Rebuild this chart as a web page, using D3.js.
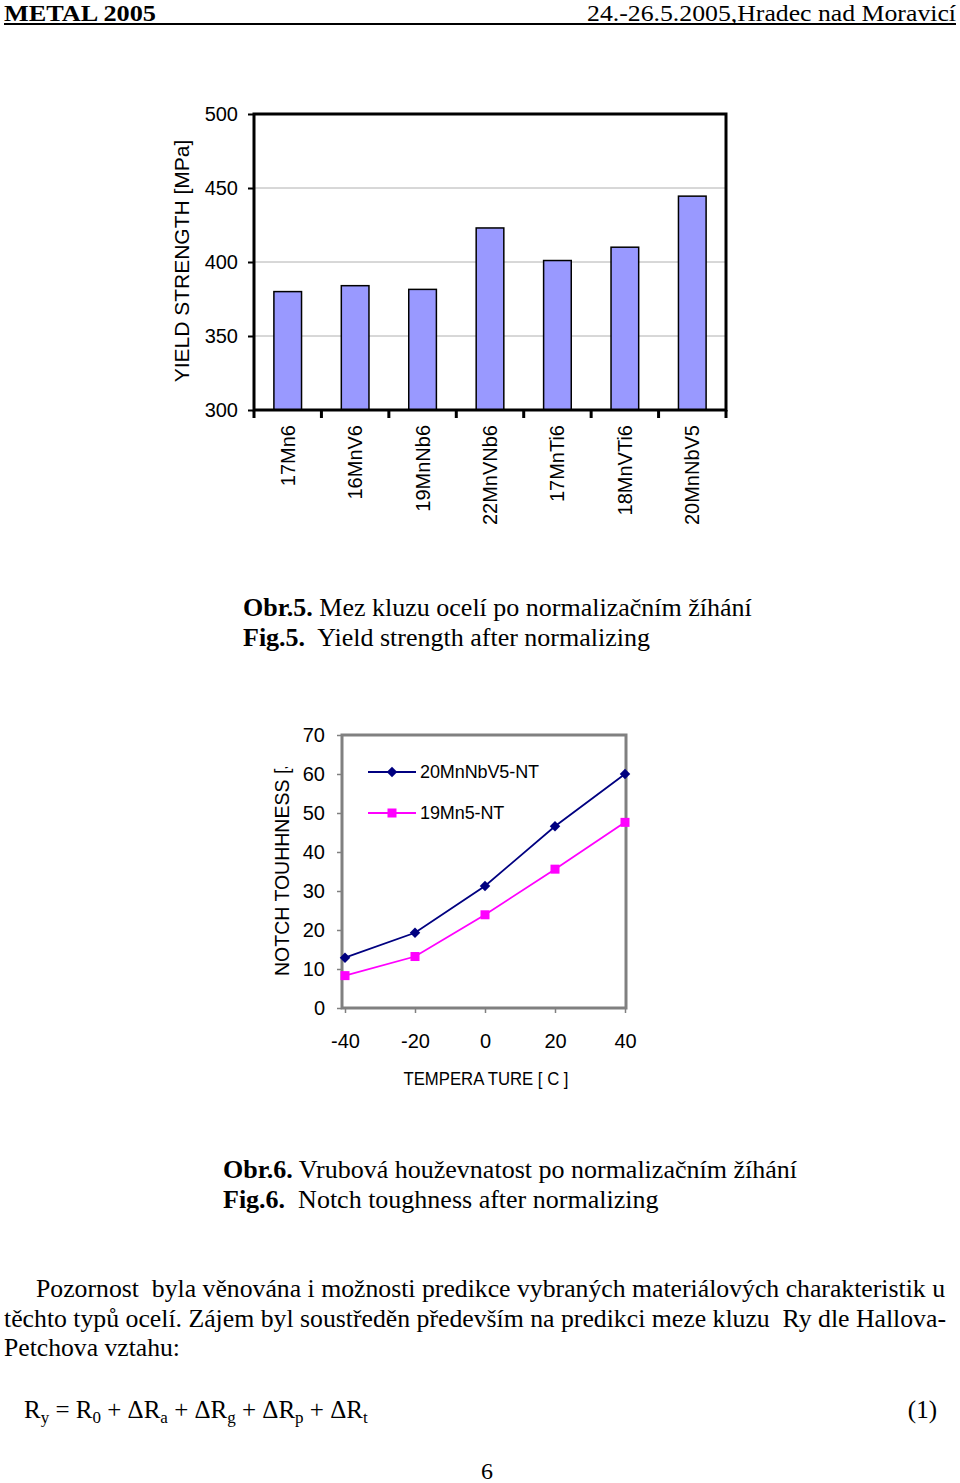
<!DOCTYPE html>
<html><head><meta charset="utf-8">
<script src="https://cdn.jsdelivr.net/npm/d3@7"></script>
<style>
html,body{margin:0;padding:0;background:#fff;}
svg{display:block;}
</style></head>
<body>
<script>
// ---- data ----
const steels = ["17Mn6","16MnV6","19MnNb6","22MnVNb6","17MnTi6","18MnVTi6","20MnNbV5"];
const yieldStrength = [380, 384, 381.5, 423, 401, 410, 444.5];
const yieldTicks = [300, 350, 400, 450, 500];

const temperatures = [-40, -20, 0, 20, 40];
const toughness20MnNbV5 = [12.9, 19.3, 31.3, 46.6, 60];
const toughness19Mn5 = [8.3, 13.2, 23.9, 35.6, 47.6];
const seriesNames = ["20MnNbV5-NT", "19Mn5-NT"];
const toughTicks = [0, 10, 20, 30, 40, 50, 60, 70];
const tempTicks = [-40, -20, 0, 20, 40];

const W = 960, H = 1483;
const svg = d3.select("body").append("svg").attr("width", W).attr("height", H);
const serif = "'Liberation Serif','Times New Roman',serif";
const sans = "'Liberation Sans',Arial,sans-serif";

// ---- header ----
svg.append("text").attr("x", 4).attr("y", 20.5).attr("font-family", serif).attr("font-weight", "bold")
  .attr("font-size", 24).attr("textLength", 152).attr("lengthAdjust", "spacingAndGlyphs").text("METAL 2005");
svg.append("text").attr("x", 587).attr("y", 20.5).attr("font-family", serif)
  .attr("font-size", 24).attr("textLength", 369).attr("lengthAdjust", "spacingAndGlyphs").text("24.-26.5.2005,Hradec nad Moravicí");
svg.append("line").attr("x1", 4).attr("x2", 956).attr("y1", 24).attr("y2", 24).attr("stroke", "#000").attr("stroke-width", 2);

// ---- chart 1: yield strength ----
const c1 = {left: 254, right: 726, top: 114, bottom: 410};
const x1 = d3.scaleBand().domain(steels).range([c1.left, c1.right]).paddingInner(0.59).paddingOuter(0.295);
const y1 = d3.scaleLinear().domain([300, 500]).range([c1.bottom, c1.top]);
const g1 = svg.append("g");

g1.selectAll("line.grid").data(yieldTicks.slice(1, -1)).join("line")
  .attr("x1", c1.left).attr("x2", c1.right).attr("y1", d => y1(d)).attr("y2", d => y1(d))
  .attr("stroke", "#b0b0b0").attr("stroke-width", 1);

g1.selectAll("rect.bar").data(yieldStrength).join("rect")
  .attr("x", (d, i) => x1(steels[i])).attr("width", x1.bandwidth())
  .attr("y", d => y1(d)).attr("height", d => y1(300) - y1(d))
  .attr("fill", "#9999ff").attr("stroke", "#000").attr("stroke-width", 1.5);

g1.append("rect").attr("x", c1.left).attr("y", c1.top).attr("width", c1.right - c1.left)
  .attr("height", c1.bottom - c1.top).attr("fill", "none").attr("stroke", "#000").attr("stroke-width", 3);

const ay1 = g1.append("g").attr("transform", `translate(${c1.left},0)`)
  .call(d3.axisLeft(y1).tickValues(yieldTicks).tickSize(6).tickPadding(10));
ay1.select(".domain").remove();
ay1.selectAll("line").attr("stroke", "#000").attr("stroke-width", 2);
ay1.selectAll("text").attr("font-family", sans).attr("font-size", 20).attr("fill", "#000");

const step1 = (c1.right - c1.left) / steels.length;
g1.selectAll("line.xt").data(d3.range(steels.length + 1)).join("line")
  .attr("x1", i => c1.left + i * step1).attr("x2", i => c1.left + i * step1)
  .attr("y1", c1.bottom).attr("y2", c1.bottom + 8).attr("stroke", "#000").attr("stroke-width", 3);

g1.selectAll("text.xl").data(steels).join("text")
  .attr("transform", d => `translate(${x1(d) + x1.bandwidth() / 2 + 7},425) rotate(-90)`)
  .attr("text-anchor", "end").attr("font-family", sans).attr("font-size", 20).text(d => d);

g1.append("text").attr("transform", "translate(189,261) rotate(-90)").attr("text-anchor", "middle")
  .attr("font-family", sans).attr("font-size", 21).text("YIELD STRENGTH [MPa]");

function caption(x, y, bold, rest) {
  const t = svg.append("text").attr("x", x).attr("y", y).attr("font-family", serif).attr("font-size", 26).attr("xml:space", "preserve");
  t.append("tspan").attr("font-weight", "bold").text(bold);
  t.append("tspan").text(rest);
}
caption(243, 616, "Obr.5.", " Mez kluzu ocelí po normalizačním žíhání");
caption(243, 646, "Fig.5.", "  Yield strength after normalizing");

// ---- chart 2: notch toughness ----
const c2 = {left: 342, right: 626, top: 735, bottom: 1008};
const x2 = d3.scaleLinear().domain([-40, 40]).range([345, 625]);
const y2 = d3.scaleLinear().domain([0, 70]).range([c2.bottom, c2.top]);
const g2 = svg.append("g");

g2.append("rect").attr("x", c2.left).attr("y", c2.top).attr("width", c2.right - c2.left)
  .attr("height", c2.bottom - c2.top).attr("fill", "none").attr("stroke", "#808080").attr("stroke-width", 3);

const ay2 = g2.append("g").attr("transform", `translate(${c2.left},0)`)
  .call(d3.axisLeft(y2).tickValues(toughTicks).tickSize(5).tickPadding(12));
ay2.select(".domain").remove();
ay2.selectAll("line").attr("stroke", "#808080").attr("stroke-width", 1.5);
ay2.selectAll("text").attr("font-family", sans).attr("font-size", 20).attr("fill", "#000");

const ax2 = g2.append("g").attr("transform", `translate(0,${c2.bottom})`)
  .call(d3.axisBottom(x2).tickValues(tempTicks).tickFormat(d => String(d)).tickSize(5).tickPadding(21));
ax2.select(".domain").remove();
ax2.selectAll("line").attr("stroke", "#808080").attr("stroke-width", 1.5);
ax2.selectAll("text").attr("font-family", sans).attr("font-size", 20).attr("fill", "#000");

const line = d3.line().x((d, i) => x2(temperatures[i])).y(d => y2(d));
const colors = ["#000080", "#ff00ff"];
const seriesData = [toughness20MnNbV5, toughness19Mn5];

seriesData.forEach((s, k) => {
  g2.append("path").datum(s).attr("d", line).attr("fill", "none").attr("stroke", colors[k]).attr("stroke-width", 1.8);
});
g2.selectAll("path.dia").data(toughness20MnNbV5).join("path")
  .attr("d", d3.symbol().type(d3.symbolDiamond2).size(70))
  .attr("transform", (d, i) => `translate(${x2(temperatures[i])},${y2(d)})`).attr("fill", colors[0]);
g2.selectAll("rect.sq").data(toughness19Mn5).join("rect")
  .attr("x", (d, i) => x2(temperatures[i]) - 4.5).attr("y", d => y2(d) - 4.5)
  .attr("width", 9).attr("height", 9).attr("fill", colors[1]);

const legY = [772, 813];
seriesNames.forEach((n, k) => {
  g2.append("line").attr("x1", 368).attr("x2", 416).attr("y1", legY[k]).attr("y2", legY[k])
    .attr("stroke", colors[k]).attr("stroke-width", 1.8);
  if (k === 0) {
    g2.append("path").attr("d", d3.symbol().type(d3.symbolDiamond2).size(70)())
      .attr("transform", `translate(392,${legY[k]})`).attr("fill", colors[k]);
  } else {
    g2.append("rect").attr("x", 387.5).attr("y", legY[k] - 4.5).attr("width", 9).attr("height", 9).attr("fill", colors[k]);
  }
  g2.append("text").attr("x", 420).attr("y", legY[k] + 6).attr("font-family", sans).attr("font-size", 18)
    .attr("letter-spacing", -0.1).text(n);
});

// y label clipped at top (as in the original)
svg.append("clipPath").attr("id", "ylab2").append("rect").attr("x", 250).attr("y", 767).attr("width", 60).attr("height", 300);
g2.append("g").attr("clip-path", "url(#ylab2)").append("text")
  .attr("transform", "translate(289,976) rotate(-90)").attr("text-anchor", "start")
  .attr("font-family", sans).attr("font-size", 19.5).text("NOTCH TOUHHNESS [J]");

g2.append("text").attr("x", 486).attr("y", 1085).attr("text-anchor", "middle").attr("font-family", sans)
  .attr("font-size", 18).attr("xml:space", "preserve").attr("textLength", 165).attr("lengthAdjust", "spacingAndGlyphs")
  .text("TEMPERA TURE [ C ]");

caption(223, 1178, "Obr.6.", " Vrubová houževnatost po normalizačním žíhání");
caption(223, 1208, "Fig.6.", "  Notch toughness after normalizing");

// ---- paragraph ----
const para = [
  {x: 36, y: 1297, w: 909, t: "Pozornost  byla věnována i možnosti predikce vybraných materiálových charakteristik u"},
  {x: 4, y: 1327, w: 942, t: "těchto typů ocelí. Zájem byl soustředěn především na predikci meze kluzu  Ry dle Hallova-"},
  {x: 4, y: 1356, w: 176, t: "Petchova vztahu:"}
];
svg.selectAll("text.para").data(para).join("text")
  .attr("x", d => d.x).attr("y", d => d.y).attr("font-family", serif).attr("font-size", 25)
  .attr("xml:space", "preserve").attr("textLength", d => d.w).attr("lengthAdjust", "spacingAndGlyphs").text(d => d.t);

// equation
const eq = svg.append("text").attr("x", 24).attr("y", 1418).attr("font-family", serif).attr("font-size", 25)
  .attr("xml:space", "preserve");
const parts = [["R", "y"], [" = R", "0"], [" + ΔR", "a"], [" + ΔR", "g"], [" + ΔR", "p"], [" + ΔR", "t"]];
parts.forEach(([a, b], i) => {
  eq.append("tspan").attr("dy", i === 0 ? 0 : -5).text(a);
  eq.append("tspan").attr("font-size", 17).attr("dy", 5).text(b);
});
svg.append("text").attr("x", 937).attr("y", 1418).attr("text-anchor", "end").attr("font-family", serif).attr("font-size", 25).text("(1)");
svg.append("text").attr("x", 487).attr("y", 1479).attr("text-anchor", "middle").attr("font-family", serif).attr("font-size", 24).text("6");
</script>
</body></html>
